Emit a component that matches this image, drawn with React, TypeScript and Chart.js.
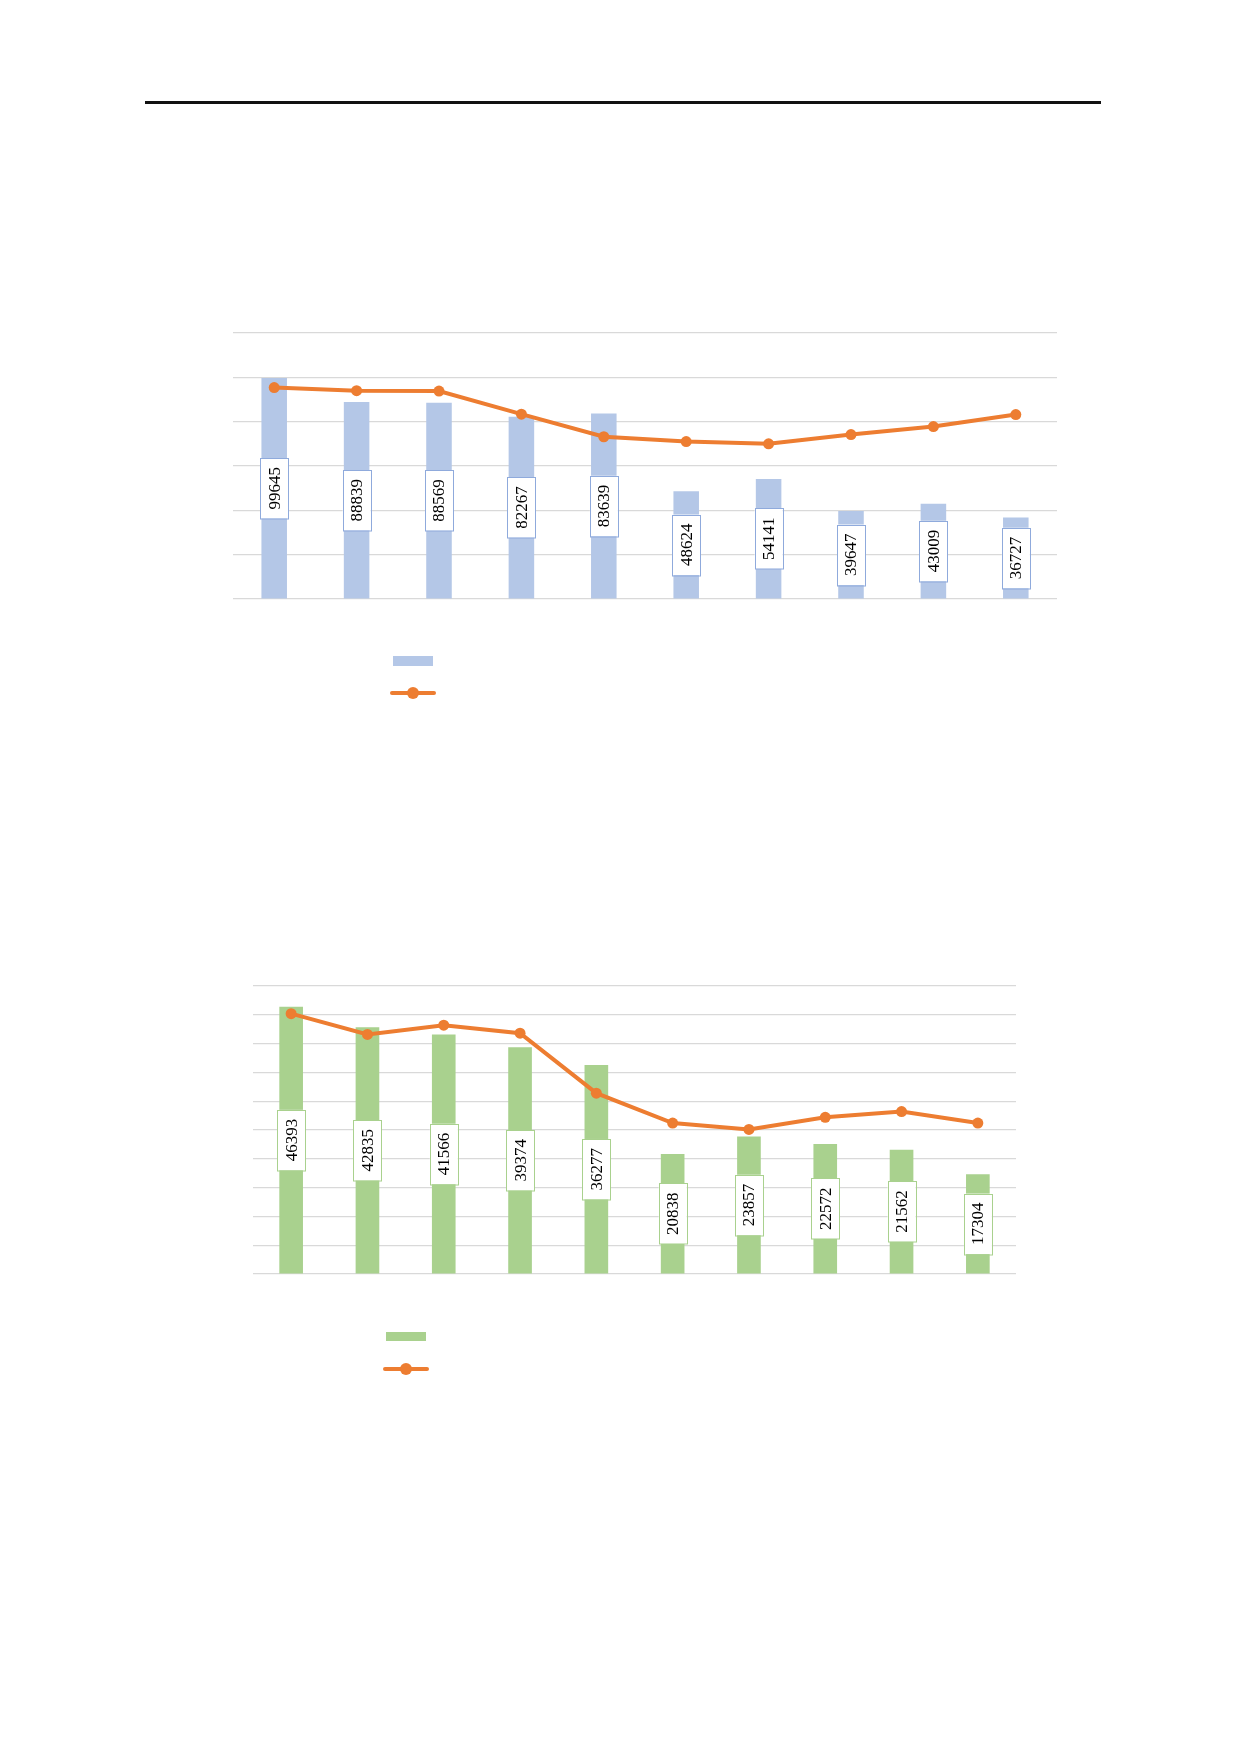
import { useEffect, useRef } from 'react';
import { Chart, registerables } from 'chart.js';

Chart.register(...registerables);

// the x labels are not printed in the picture, only their order matters
const categories = ['1', '2', '3', '4', '5', '6', '7', '8', '9', '10'];

const topBars = [99645, 88839, 88569, 82267, 83639, 48624, 54141, 39647, 43009, 36727];
const topLine = [47.7, 47.0, 46.9, 41.7, 36.6, 35.5, 35.0, 37.1, 38.9, 41.6];
const topBarTicks = { min: 0, max: 120000, step: 20000 };
const topLineTicks = { min: 0, max: 60 };

const bottomBars = [46393, 42835, 41566, 39374, 36277, 20838, 23857, 22572, 21562, 17304];
const bottomLine = [45.2, 41.6, 43.2, 41.8, 31.4, 26.2, 25.1, 27.2, 28.2, 26.2];
const bottomBarTicks = { min: 0, max: 50000, step: 5000 };
const bottomLineTicks = { min: 0, max: 50 };

const ORANGE = '#ED7D31';
const GRID = '#D9D9D9';

type Box = { left: number; top: number; width: number; height: number };
type LegendPos = { rect: Box; lineX0: number; lineX1: number; lineY: number };

// white boxes with the bar value, turned to read bottom-up, centred on each bar
const barLabels = (border: string) => ({
  id: 'barLabels',
  afterDatasetDraw(chart: any, args: any) {
    if (args.index !== 0) return;
    const ctx = chart.ctx;
    const values = chart.data.datasets[0].data;
    ctx.save();
    ctx.font = '17px "Liberation Serif", "Times New Roman", serif';
    args.meta.data.forEach((bar: any, i: number) => {
      const text = String(values[i]);
      const tw = ctx.measureText(text).width;
      const h = tw + 18;
      const w = 28;
      const cx = bar.x;
      const cy = (bar.y + bar.base) / 2;
      ctx.fillStyle = '#ffffff';
      ctx.fillRect(cx - w / 2, cy - h / 2, w, h);
      ctx.strokeStyle = border;
      ctx.lineWidth = 1;
      ctx.strokeRect(Math.round(cx - w / 2) + 0.5, Math.round(cy - h / 2) + 0.5, w, h);
      ctx.translate(cx, cy);
      ctx.rotate(-Math.PI / 2);
      ctx.fillStyle = '#000000';
      ctx.textAlign = 'center';
      ctx.textBaseline = 'middle';
      ctx.fillText(text, 0, 1);
      ctx.setTransform(1, 0, 0, 1, 0, 0);
      ctx.restore();
      ctx.save();
      ctx.font = '17px "Liberation Serif", "Times New Roman", serif';
    });
    ctx.restore();
  },
});

// legend keys only: the legend carries no text in the picture
const legendKeys = (barColor: string, pos: LegendPos) => ({
  id: 'legendKeys',
  afterDraw(chart: any) {
    const ctx = chart.ctx;
    ctx.save();
    ctx.fillStyle = barColor;
    ctx.fillRect(pos.rect.left, pos.rect.top, pos.rect.width, pos.rect.height);
    ctx.strokeStyle = ORANGE;
    ctx.lineWidth = 4;
    ctx.lineCap = 'round';
    ctx.beginPath();
    ctx.moveTo(pos.lineX0, pos.lineY);
    ctx.lineTo(pos.lineX1, pos.lineY);
    ctx.stroke();
    ctx.fillStyle = ORANGE;
    ctx.beginPath();
    ctx.arc((pos.lineX0 + pos.lineX1) / 2, pos.lineY, 6, 0, Math.PI * 2);
    ctx.fill();
    ctx.restore();
  },
});

type ComboProps = {
  box: Box;
  bottomPad: number;
  bars: number[];
  line: number[];
  barTicks: { min: number; max: number; step: number };
  lineTicks: { min: number; max: number };
  barColor: string;
  labelBorder: string;
  legend: LegendPos;
};

function ComboChart(props: ComboProps) {
  const canvasRef = useRef<HTMLCanvasElement>(null);

  useEffect(() => {
    if (!canvasRef.current) return;

    const chart = new Chart(canvasRef.current, {
      type: 'bar',
      data: {
        labels: categories,
        datasets: [
          {
            type: 'bar',
            label: '',
            data: props.bars,
            backgroundColor: props.barColor,
            categoryPercentage: 1,
            barPercentage: 0.31,
            yAxisID: 'y',
            order: 1,
          },
          {
            type: 'line',
            label: '',
            data: props.line,
            borderColor: ORANGE,
            backgroundColor: ORANGE,
            borderWidth: 4,
            pointRadius: 5.5,
            pointBorderWidth: 0,
            pointBackgroundColor: ORANGE,
            tension: 0,
            yAxisID: 'y1',
            order: 0,
          },
        ] as any,
      },
      options: {
        animation: false,
        responsive: true,
        maintainAspectRatio: false,
        events: [],
        layout: {
          autoPadding: false,
          padding: { left: 2, right: 2, top: 2, bottom: props.bottomPad },
        },
        plugins: {
          legend: { display: false },
          tooltip: { enabled: false },
        },
        scales: {
          x: { display: false, offset: true },
          y: {
            position: 'left',
            min: props.barTicks.min,
            max: props.barTicks.max,
            ticks: { display: false, stepSize: props.barTicks.step },
            border: { display: false },
            grid: { color: GRID, lineWidth: 1.2, drawTicks: false },
          },
          y1: {
            display: false,
            position: 'right',
            min: props.lineTicks.min,
            max: props.lineTicks.max,
          },
        },
      },
      plugins: [barLabels(props.labelBorder), legendKeys(props.barColor, props.legend)],
    });

    return () => chart.destroy();
  }, []);

  return (
    <div
      style={{
        position: 'absolute',
        left: props.box.left,
        top: props.box.top,
        width: props.box.width,
        height: props.box.height,
      }}
    >
      <canvas ref={canvasRef}></canvas>
    </div>
  );
}

export default function App() {
  return (
    <div
      style={{
        position: 'absolute',
        left: 0,
        top: 0,
        width: 1240,
        height: 1754,
        background: '#ffffff',
        overflow: 'hidden',
      }}
    >
      <div
        style={{
          position: 'absolute',
          left: 145,
          top: 101,
          width: 956,
          height: 3,
          background: '#111111',
        }}
      />
      <ComboChart
        box={{ left: 231, top: 331, width: 828, height: 380 }}
        bottomPad={112}
        bars={topBars}
        line={topLine}
        barTicks={topBarTicks}
        lineTicks={topLineTicks}
        barColor="#B4C7E7"
        labelBorder="#8FAADC"
        legend={{ rect: { left: 162, top: 325, width: 40, height: 10 }, lineX0: 161, lineX1: 203, lineY: 362 }}
      />
      <ComboChart
        box={{ left: 251, top: 984, width: 767, height: 400 }}
        bottomPad={110}
        bars={bottomBars}
        line={bottomLine}
        barTicks={bottomBarTicks}
        lineTicks={bottomLineTicks}
        barColor="#A9D18E"
        labelBorder="#A9D18E"
        legend={{ rect: { left: 135, top: 348, width: 40, height: 9 }, lineX0: 134, lineX1: 176, lineY: 385 }}
      />
    </div>
  );
}
